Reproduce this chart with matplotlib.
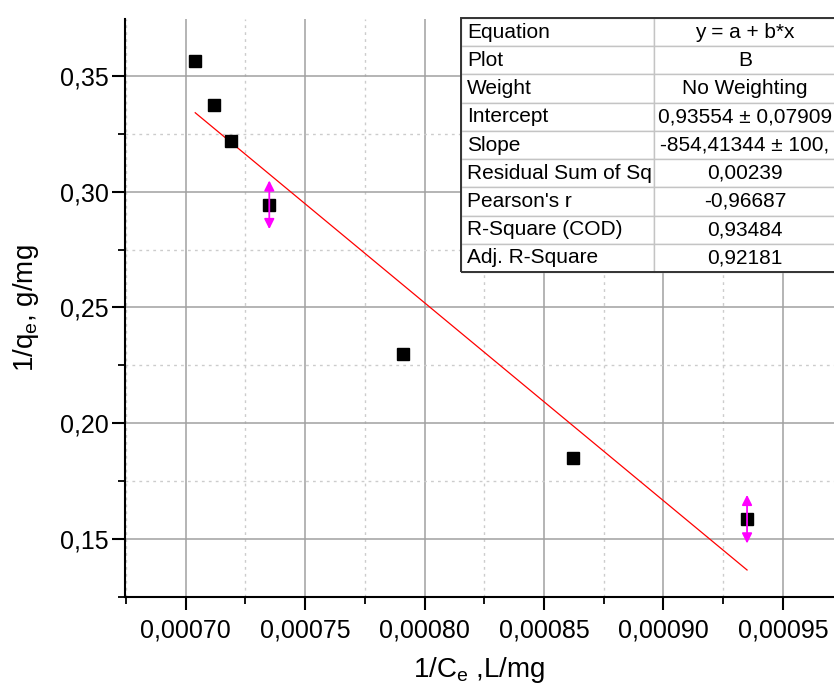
import matplotlib
matplotlib.use("Agg")
import numpy as np
import matplotlib.pyplot as plt
from matplotlib.ticker import MultipleLocator, FuncFormatter
from matplotlib.table import Table
from matplotlib.patches import Rectangle

# data
inv_ce = [0.000704, 0.000712, 0.000719, 0.000735, 0.000791, 0.000862, 0.000935]
inv_qe = [0.3564, 0.3374, 0.3220, 0.2943, 0.2301, 0.1850, 0.1586]
marked = [3, 6]   # points with the magenta reader arrows

intercept = 0.93554
slope = -854.41344

table_rows = [
    ["Equation", "y = a + b*x"],
    ["Plot", "B"],
    ["Weight", "No Weighting"],
    ["Intercept", "0,93554 \u00b1 0,07909"],
    ["Slope", "-854,41344 \u00b1 100,"],
    ["Residual Sum of Sq", "0,00239"],
    ["Pearson's r", "-0,96687"],
    ["R-Square (COD)", "0,93484"],
    ["Adj. R-Square", "0,92181"],
]

plt.rcParams['font.family'] = ['Liberation Sans', 'DejaVu Sans']

fig = plt.figure(figsize=(8.34, 6.86), dpi=100)
ax = fig.add_axes([125 / 834, 89 / 686, 709 / 834, 578 / 686])

x = np.array(inv_ce)
y = np.array(inv_qe)

# grid
ax.set_axisbelow(True)
ax.grid(which='major', color='#a0a0a0', lw=1.1, ls='-')
ax.grid(which='minor', color='#cccccc', lw=1.0, ls=(0, (2, 3)))

ax.plot(x, y, 's', color='black', ms=9, zorder=3)

xf = np.array([x.min(), x.max()])
ax.plot(xf, intercept + slope * xf, color='red', lw=0.9, zorder=2)

for i in marked:
    ax.annotate('', xy=(x[i], y[i] + 0.0105), xytext=(x[i], y[i] - 0.0105),
                arrowprops=dict(arrowstyle='<|-|>,head_length=0.5,head_width=0.25',
                                color='magenta', lw=1.3, mutation_scale=12,
                                shrinkA=0, shrinkB=0), zorder=4)

ax.set_xlim(0.0006746, 0.0009714)
ax.set_ylim(0.125, 0.3745)

ax.xaxis.set_major_locator(MultipleLocator(0.00005))
ax.xaxis.set_minor_locator(MultipleLocator(0.000025))
ax.yaxis.set_major_locator(MultipleLocator(0.05))
ax.yaxis.set_minor_locator(MultipleLocator(0.025))
ax.xaxis.set_major_formatter(FuncFormatter(lambda v, p: f"{v:.5f}".replace('.', ',')))
ax.yaxis.set_major_formatter(FuncFormatter(lambda v, p: f"{v:.2f}".replace('.', ',')))

ax.spines['top'].set_visible(False)
ax.spines['right'].set_visible(False)
for s in ['left', 'bottom']:
    ax.spines[s].set_linewidth(1.5)
ax.tick_params(which='major', direction='out', length=9.5, width=1.5, labelsize=18)
ax.tick_params(axis='x', which='major', pad=6)
ax.tick_params(axis='y', which='major', pad=2)
ax.tick_params(which='minor', direction='out', length=5, width=1.3)

ax.set_xlabel("1/C$\\mathregular{_e}$ ,L/mg", fontsize=20, labelpad=9)
ax.set_ylabel("1/q$\\mathregular{_e}$, g/mg", fontsize=20, labelpad=14)

# fit results table
tx0, tw = (461 - 125) / 709, (836 - 461) / 709
ty0, th = (597 - 272) / 578, (272 - 18) / 578
tab = Table(ax, bbox=[tx0, ty0, tw, th])
col_w = [0.515, 0.485]
nrows = len(table_rows)
for r, row in enumerate(table_rows):
    for c, txt in enumerate(row):
        cell = tab.add_cell(r, c, col_w[c], 1.0 / nrows, text=txt,
                            loc='left' if c == 0 else 'center',
                            facecolor='white', edgecolor='#c4c4c4')
        cell.PAD = 0.03
        cell.set_linewidth(1.0)
tab.auto_set_font_size(False)
tab.set_fontsize(15)
tab.set_zorder(5)
ax.add_table(tab)
ax.add_patch(Rectangle((tx0, ty0), tw, th, transform=ax.transAxes, fill=False,
                       edgecolor='#333333', lw=1.4, zorder=6, clip_on=False))

fig.savefig("out.png", dpi=100)
